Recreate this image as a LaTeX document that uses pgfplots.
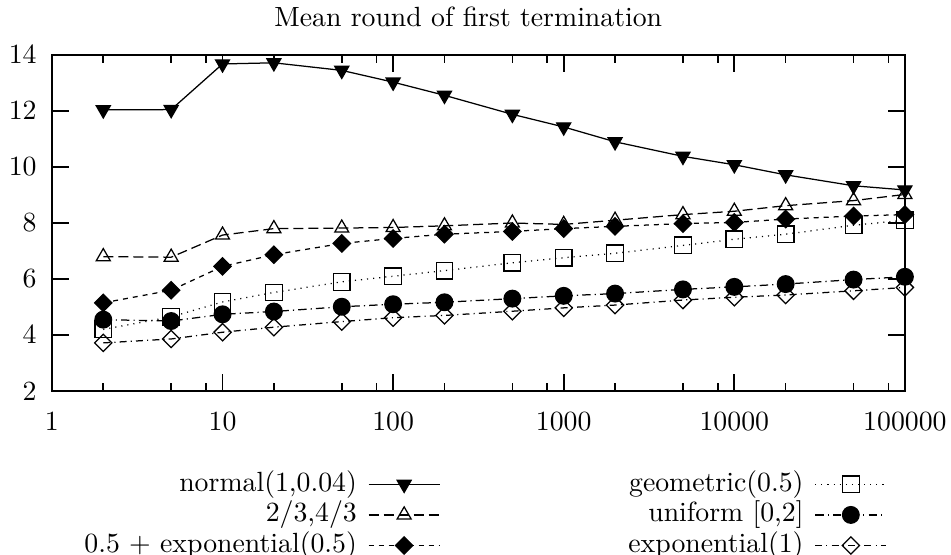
\documentclass[border=0pt]{standalone}
\usepackage{pgfplots}
\pgfplotsset{compat=1.18}
\pgfplotstableread{
x      nrm    geo   tri   uni   dia   ex1
2      12.04  4.20  6.80  4.55  5.15  3.72
5      12.05  4.65  6.78  4.50  5.60  3.86
10     13.68  5.18  7.57  4.74  6.45  4.10
20     13.72  5.52  7.80  4.84  6.87  4.28
50     13.45  5.90  7.82  5.01  7.27  4.48
100    13.03  6.10  7.84  5.10  7.45  4.62
200    12.56  6.30  7.90  5.17  7.60  4.70
500    11.88  6.58  8.00  5.30  7.70  4.85
1000   11.43  6.76  7.95  5.40  7.80  4.97
2000   10.90  6.92  8.10  5.48  7.88  5.07
5000   10.38  7.20  8.30  5.63  7.98  5.25
10000  10.08  7.42  8.42  5.72  8.02  5.35
20000  9.72   7.60  8.62  5.82  8.14  5.43
50000  9.33   7.92  8.80  5.98  8.25  5.58
100000 9.18   8.10  9.02  6.08  8.30  5.70
}\data
\begin{document}
\begin{tikzpicture}
\begin{axis}[
  name=ax,
  scale only axis, width=307.1pt, height=121pt,
  xmode=log, log basis x=10,
  xmin=1, xmax=100000, ymin=2, ymax=14,
  xtick={1,10,100,1000,10000,100000},
  xticklabels={1,10,100,1000,10000,100000},
  minor xtick={2,5,8,20,50,80,200,500,800,2000,5000,8000,20000,50000,80000},
  ytick={2,4,6,8,10,12,14},
  major tick length=6pt, minor tick length=3pt,
  tick align=inside,
  tick style={line width=0.6pt, black},
  axis line style={line width=0.8pt},
  yticklabel style={xshift=-2pt},
  xticklabel style={yshift=-4pt},
  legend columns=2,
  legend plot pos=right,
  legend cell align=right,
  legend image code/.code={\draw[mark repeat=2,mark phase=2,#1] plot coordinates {(0pt,0pt) (12.8pt,0pt) (25.6pt,0pt)};},
  legend style={draw=none, fill=none, inner sep=0pt,
    at={(axis description cs:0.0375,-0.2347)}, anchor=north west,
    row sep=1pt,
    nodes={inner sep=0pt, text height=7.5pt, text depth=2.5pt},
    /tikz/every odd column/.append style={column sep=4pt},
    /tikz/every even column/.append style={column sep=67.7pt}},
  every axis plot/.append style={black, line width=0.45pt},
]
\addplot[mark=triangle*, mark size=2.9pt, mark options={solid, rotate=180, fill=black}] table[x=x,y=nrm]{\data};
\addlegendentry{normal(1,0.04)}
\addplot[dash pattern=on 0.4pt off 1.8pt, mark=square, mark size=3pt, mark options={solid}] table[x=x,y=geo]{\data};
\addlegendentry{geometric(0.5)}
\addplot[dash pattern=on 3.6pt off 1.8pt, mark=triangle, mark size=2.9pt, mark options={solid}] table[x=x,y=tri]{\data};
\addlegendentry{2/3,4/3}
\addplot[dash pattern=on 3pt off 1.5pt on 0.4pt off 1.5pt, mark=*, mark size=3pt, mark options={solid, fill=black}] table[x=x,y=uni]{\data};
\addlegendentry{uniform [0,2]}
\addplot[dash pattern=on 1.8pt off 1.8pt, mark=square*, mark size=2.2pt, mark options={solid, rotate=45, fill=black}] table[x=x,y=dia]{\data};
\addlegendentry{0.5 + exponential(0.5)}
\addplot[dash pattern=on 2.5pt off 1.5pt on 0.4pt off 1.5pt, mark=square, mark size=2.2pt, mark options={solid, rotate=45}] table[x=x,y=ex1]{\data};
\addlegendentry{exponential(1)}
\end{axis}
\node[anchor=base, inner sep=0pt] at ([xshift=149.9pt,yshift=10.4pt]ax.north west) {Mean round of first termination};
\pgfresetboundingbox
\path[use as bounding box] ([xshift=-18.7pt,yshift=-58.7pt]ax.south west) rectangle ([xshift=16.6pt,yshift=19.8pt]ax.north east);
\end{tikzpicture}
\end{document}
